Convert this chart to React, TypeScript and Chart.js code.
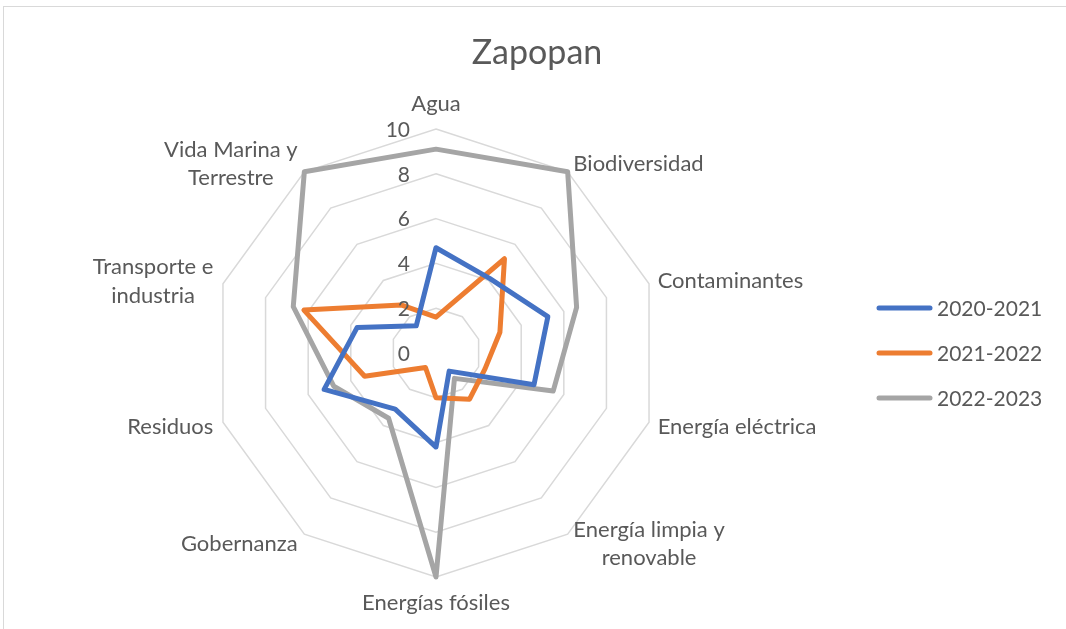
import React, { useEffect, useRef } from "react";
import { Chart, registerables } from "chart.js";

Chart.register(...registerables);

const TITLE = "Zapopan";
const CATEGORIES: (string | string[])[] = [
  "Agua",
  "Biodiversidad",
  "Contaminantes",
  "Energía eléctrica",
  ["Energía limpia y", "renovable"],
  "Energías fósiles",
  "Gobernanza",
  "Residuos",
  ["Transporte e", "industria"],
  ["Vida Marina y", "Terrestre"],
];
const SERIES_NAMES = ["2020-2021", "2021-2022", "2022-2023"];
const VALUES_2020_2021 = [4.7, 4.1, 5.25, 4.6, 1.0, 4.2, 3.1, 5.25, 3.7, 1.5];
const VALUES_2021_2022 = [1.6, 5.2, 3.0, 2.3, 2.55, 2.0, 0.8, 3.35, 6.2, 2.65];
const VALUES_2022_2023 = [9.1, 10, 6.6, 5.5, 1.4, 10, 3.6, 4.8, 6.7, 10];
const COLORS = ["#4472C4", "#ED7D31", "#A5A5A5"];
const AXIS_MIN = 0;
const AXIS_MAX = 10;
const AXIS_STEP = 2;

const FONT = "Lato, 'Noto Sans', sans-serif";
const TEXT = "#595959";

const textPlugin = {
  id: "excelText",
  afterDraw(chart: any) {
    const ctx: CanvasRenderingContext2D = chart.ctx;
    const r = chart.scales.r;
    ctx.save();
    ctx.fillStyle = TEXT;
    ctx.textBaseline = "middle";

    // title
    ctx.font = `34px ${FONT}`;
    ctx.textAlign = "center";
    ctx.fillText(TITLE, 537, 53);

    // tick labels
    ctx.font = `21px ${FONT}`;
    ctx.textAlign = "right";
    r.ticks.forEach((t: any) => {
      const d = r.getDistanceFromCenterForValue(t.value);
      ctx.fillText(String(t.value), r.xCenter - 26, r.yCenter - d + 1);
    });

    // point labels
    ctx.font = `22px ${FONT}`;
    const labels = chart.data.labels as (string | string[])[];
    const n = labels.length;
    const lh = 28.5;
    labels.forEach((lab, i) => {
      const lines = Array.isArray(lab) ? lab : [lab];
      const p = r.getPointPosition(i, r.drawingArea + 8);
      const deg = Math.round((i * 360) / n);
      const theta = (deg * Math.PI) / 180;
      const widths = lines.map((l) => ctx.measureText(l).width);
      const bw = Math.max(...widths);
      const bh = lines.length * lh;
      let cx: number;
      let cy: number;
      if (deg === 0) {
        cx = p.x;
        cy = p.y - 4 - bh / 2;
      } else if (deg === 180) {
        cx = p.x;
        cy = p.y + 3 + bh / 2;
      } else if (deg < 180) {
        cx = p.x + 1 + bw / 2;
        cy = p.y - 3 * Math.cos(theta);
      } else {
        cx = p.x - 2 - bw / 2;
        cy = p.y - 3 * Math.cos(theta);
      }
      ctx.textAlign = "center";
      lines.forEach((l, k) => {
        ctx.fillText(l, cx, cy - bh / 2 + lh * (k + 0.5) + 1);
      });
    });

    // legend
    ctx.font = `21px ${FONT}`;
    chart.data.datasets.forEach((ds: any, i: number) => {
      const y = 308 + 45 * i;
      ctx.strokeStyle = ds.borderColor;
      ctx.lineWidth = 5;
      ctx.lineCap = "round";
      ctx.beginPath();
      ctx.moveTo(879, y);
      ctx.lineTo(930, y);
      ctx.stroke();
      ctx.textAlign = "left";
      ctx.fillText(ds.label, 937, y + 1);
    });
    ctx.restore();
  },
};

export default function App() {
  const ref = useRef<HTMLCanvasElement | null>(null);
  useEffect(() => {
    if (!ref.current) return;
    const seriesValues = [VALUES_2020_2021, VALUES_2021_2022, VALUES_2022_2023];
    const chart = new Chart(ref.current, {
      type: "radar",
      data: {
        labels: CATEGORIES as any,
        datasets: SERIES_NAMES.map((name, i) => ({
          label: name,
          data: seriesValues[i],
          borderColor: COLORS[i],
          backgroundColor: COLORS[i],
          borderWidth: 5,
          borderJoinStyle: "round" as const,
          fill: false,
          pointRadius: 0,
          pointHoverRadius: 0,
          tension: 0,
        })),
      },
      options: {
        animation: false,
        responsive: false,
        maintainAspectRatio: false,
        devicePixelRatio: 1,
        layout: { padding: { left: 212, right: 405, top: 129, bottom: 51 } },
        plugins: {
          legend: { display: false },
          title: { display: false },
          tooltip: { enabled: false },
        },
        scales: {
          r: {
            min: AXIS_MIN,
            max: AXIS_MAX,
            ticks: { stepSize: AXIS_STEP, display: false, showLabelBackdrop: false },
            grid: { color: "#d9d9d9", lineWidth: 1.5 },
            angleLines: { display: false },
            pointLabels: { display: false },
          },
        },
      },
      plugins: [textPlugin],
    });
    return () => chart.destroy();
  }, []);

  return (
    <div
      style={{
        position: "absolute",
        left: 0,
        top: 0,
        width: 1066,
        height: 629,
        background: "#ffffff",
        overflow: "hidden",
      }}
    >
      <div
        style={{
          position: "absolute",
          left: 3,
          top: 6,
          width: 1100,
          height: 700,
          border: "1px solid #d9d9d9",
        }}
      />
      <canvas
        ref={ref}
        width={1066}
        height={629}
        style={{ position: "absolute", left: 0, top: 0, width: 1066, height: 629 }}
      />
    </div>
  );
}
